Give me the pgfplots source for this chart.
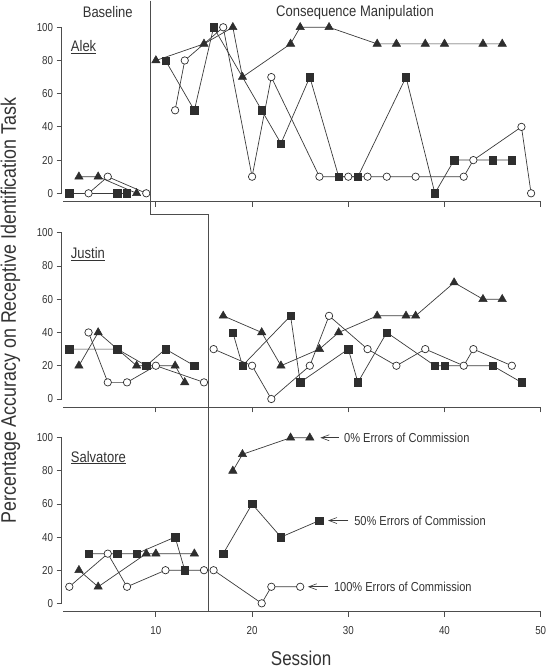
\documentclass[border=0pt]{standalone}
\usepackage{fontspec}
\setmainfont{Liberation Sans}[FakeStretch=0.85]
\usepackage{pgfplots}
\pgfplotsset{compat=1.18}
\usetikzlibrary{arrows.meta}
\definecolor{txt}{HTML}{333333}
\definecolor{axg}{HTML}{4D4D4D}
\definecolor{mk}{HTML}{2E2E2E}
\definecolor{ln}{HTML}{3A3A3A}
\pgfplotsset{
 panel/.style={scale only axis, width=479.1bp, xmin=0.2, xmax=50, ymin=-5, clip=false, anchor=south west,
  axis line style={draw=none}, xtick={10,20,30,40,50}, ytick={0,20,40,60,80,100},
  xtick pos=lower, ytick pos=left, tick align=outside, major tick length=5bp,
  tick style={draw=axg, line width=0.8bp},
  /pgf/number format/assume math mode=true,
  tick label style={font=\fontsize{11.5bp}{13bp}\selectfont, text=txt},
 },
 sq/.style={draw=ln, line width=0.7bp, mark=square*, mark size=3.7bp, mark options={solid, fill=mk, draw=mk, line width=0.5bp}},
 tri/.style={draw=ln, line width=0.7bp, mark=triangle*, mark size=4.8bp, mark options={solid, fill=mk, draw=mk, line width=0.5bp}},
 circ/.style={draw=ln, line width=0.7bp, mark=*, mark size=3.7bp, mark options={solid, fill=white, draw=mk, line width=0.7bp}},
}
\tikzset{axl/.style={draw=axg, line width=0.9bp}, lbl/.style={text=txt, inner sep=0pt}}
\newcommand{\ttl}{\fontsize{15.3bp}{18bp}\selectfont}
\newcommand{\ann}{\fontsize{13bp}{15bp}\selectfont}
\begin{document}
\begin{tikzpicture}
% ---------------- Alek ----------------
\begin{axis}[panel, at={(61.6bp,-201.6bp)}, height=200.9bp, ymax=116, xticklabels={}]
 \draw[axl] (0.2,0)--(0.2,100);
 \draw[axl] (0.35,-5)--(50,-5);
 \addplot[tri] coordinates {(2,10)(4,10)(8,0)};
 \addplot[sq] coordinates {(1,0)(6,0)(7,0)};
 \addplot[circ] coordinates {(3,0)(5,10)(9,0)};
 \addplot[tri] coordinates {(10,80)(15,90)(18,100)(19,70)(24,90)(25,100)(28,100)(33,90)(35,90)(38,90)(40,90)(44,90)(46,90)};
 \addplot[sq] coordinates {(11,80)(14,50)(16,100)(21,50)(23,30)(26,70)(29,10)(31,10)(36,70)(39,0)(41,20)(45,20)(47,20)};
 \addplot[circ] coordinates {(12,50)(13,80)(17,100)(20,10)(22,70)(27,10)(30,10)(32,10)(34,10)(37,10)(42,10)(43,20)(48,40)(49,0)};
 \coordinate (p1) at (9.45,116);
 \coordinate (p2) at (9.45,-12.7);
 \node[lbl, font=\ttl] at (5,109) {Baseline};
 \node[lbl, font=\ttl] at (30.7,109) {Consequence Manipulation};
 \node[lbl, font=\ttl, anchor=base west] at (1.15,85.3) {\underline{Alek}};
\end{axis}
% ---------------- Justin ----------------
\begin{axis}[panel, at={(61.6bp,-407.3bp)}, height=192.9bp, ymax=111, xticklabels={}]
 \draw[axl] (0.2,0)--(0.2,100);
 \draw[axl] (0.35,-5)--(50,-5);
 \addplot[tri] coordinates {(2,20)(4,40)(8,20)(12,20)(13,10)};
 \addplot[sq] coordinates {(1,30)(6,30)(9,20)(11,30)(14,20)};
 \addplot[circ] coordinates {(3,40)(5,10)(7,10)(10,20)(15,10)};
 \addplot[tri] coordinates {(17,50)(21,40)(23,20)(27,30)(29,40)(33,50)(36,50)(37,50)(41,70)(44,60)(46,60)};
 \addplot[sq] coordinates {(18,40)(19,20)(24,50)(25,10)(30,30)(31,10)(34,40)(39,20)(40,20)(45,20)(48,10)};
 \addplot[circ] coordinates {(16,30)(20,20)(22,0)(26,20)(28,50)(32,30)(35,20)(38,30)(42,20)(43,30)(47,20)};
 \node[lbl, font=\ttl, anchor=base west] at (1.15,84.3) {\underline{Justin}};
\end{axis}
% ---------------- Salvatore ----------------
\begin{axis}[panel, at={(61.6bp,-611.6bp)}, height=198.7bp, ymax=115,
  xticklabel style={yshift=-6bp}]
 \draw[axl] (0.2,0)--(0.2,100);
 \draw[axl] (0.35,-5)--(50,-5);
 \addplot[tri] coordinates {(2,20)(4,10)(9,30)(10,30)(14,30)};
 \addplot[sq] coordinates {(3,30)(6,30)(8,30)(12,40)(13,20)};
 \addplot[circ] coordinates {(1,10)(5,30)(7,10)(11,20)(15,20)};
 \addplot[tri] coordinates {(18,80)(19,90)(24,100)(26,100)};
 \addplot[sq] coordinates {(17,30)(20,60)(23,40)(27,50)};
 \addplot[circ] coordinates {(16,20)(21,0)(22,10)(25,10)};
 \coordinate (p4) at (15.45,-5);
 \node[lbl, font=\ttl, anchor=base west] at (1.15,85.3) {\underline{Salvatore}};
 \draw[ln, line width=0.6bp, -{Straight Barb[length=8bp,width=6bp]}] (29.0,100) -- (27.1,100);
 \draw[ln, line width=0.6bp, -{Straight Barb[length=8bp,width=6bp]}] (30.0,50) -- (27.9,50);
 \draw[ln, line width=0.6bp, -{Straight Barb[length=8bp,width=6bp]}] (27.9,10) -- (25.8,10);
 \node[lbl, font=\ann, anchor=west] at (29.55,100) {0\% Errors of Commission};
 \node[lbl, font=\ann, anchor=west] at (30.6,50) {50\% Errors of Commission};
 \node[lbl, font=\ann, anchor=west] at (28.5,10) {100\% Errors of Commission};
 \node[lbl, font=\fontsize{20bp}{24bp}\selectfont, anchor=base] at (25.1,-37.5) {Session};
\end{axis}
\draw[axg, line width=0.8bp] (p1) -- (p2) -- (p2 -| p4) -- (p4);
\node[text=txt, rotate=90, inner sep=0pt, font=\fontsize{21bp}{24bp}\selectfont] at (10.5bp,-310.5bp) {Percentage Accuracy on Receptive Identification Task};
\pgfresetboundingbox
\path[use as bounding box] (0,0) rectangle (547bp,-670bp);
\end{tikzpicture}
\end{document}
